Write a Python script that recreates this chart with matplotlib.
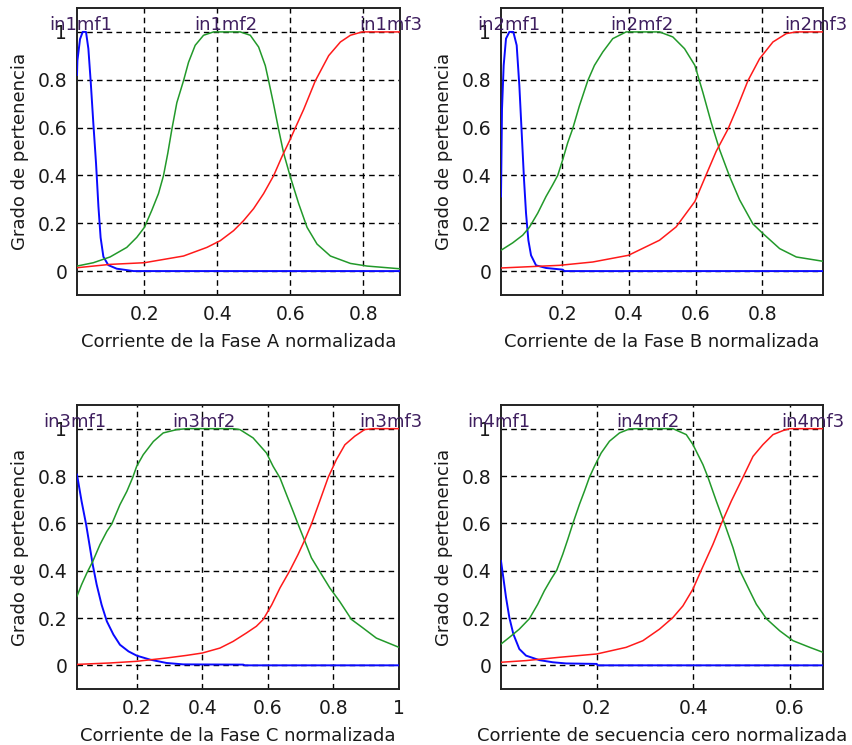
import matplotlib
matplotlib.use("Agg")
import matplotlib.pyplot as plt

plt.rcParams['font.family'] = ['DejaVu Sans']

# ---------------- data ----------------
# Panel 1: Fase A
p1_mf1_x = [0.0164, 0.0175, 0.0247, 0.032, 0.041, 0.0475, 0.054, 0.061, 0.0685, 0.075, 0.081, 0.0886, 0.102, 0.125, 0.171, 0.9]
p1_mf1_y = [0.82, 0.88, 0.97, 1.0, 1.0, 0.93, 0.79, 0.62, 0.45, 0.27, 0.14, 0.06, 0.025, 0.01, 0.0, 0.0]
p1_mf2_x = [0.0164, 0.0612, 0.1068, 0.1525, 0.1799, 0.2009, 0.221, 0.2393, 0.253, 0.2648, 0.2758, 0.2895, 0.3078,
            0.3215, 0.3397, 0.3626, 0.39, 0.463, 0.4904, 0.5132, 0.5315, 0.5406, 0.5543, 0.568, 0.5817, 0.60,
            0.6228, 0.6457, 0.673, 0.7096, 0.7644, 0.81, 0.8968, 0.9]
p1_mf2_y = [0.021, 0.035, 0.059, 0.099, 0.141, 0.183, 0.254, 0.324, 0.399, 0.493, 0.592, 0.704, 0.796,
            0.873, 0.944, 0.986, 1.0, 1.0, 0.986, 0.937, 0.859, 0.796, 0.697, 0.592, 0.493, 0.394,
            0.282, 0.183, 0.113, 0.063, 0.032, 0.021, 0.010, 0.010]
p1_mf3_x = [0.0164, 0.1068, 0.2009, 0.3078, 0.3717, 0.4082, 0.4447, 0.4721, 0.4995, 0.5269, 0.5543, 0.5772,
            0.5991, 0.6137, 0.6365, 0.6685, 0.705, 0.737, 0.7644, 0.7963, 0.9]
p1_mf3_y = [0.014, 0.028, 0.035, 0.063, 0.099, 0.127, 0.169, 0.211, 0.261, 0.324, 0.399, 0.479,
            0.549, 0.599, 0.676, 0.796, 0.901, 0.958, 0.986, 1.0, 1.0]
p1_lab_x = [0.027, 0.423, 0.874]

# Panel 2: Fase B
p2_mf1_x = [0.017, 0.020, 0.025, 0.032, 0.042, 0.054, 0.064, 0.072, 0.079, 0.086, 0.092, 0.099, 0.107, 0.122,
            0.152, 0.202, 0.207, 0.982]
p2_mf1_y = [0.312, 0.677, 0.860, 0.972, 1.0, 1.0, 0.944, 0.775, 0.579, 0.382, 0.242, 0.129, 0.066, 0.024,
            0.013, 0.006, 0.0, 0.0]
p2_mf2_x = [0.017, 0.052, 0.082, 0.102, 0.127, 0.152, 0.172, 0.187, 0.202, 0.217, 0.232, 0.252, 0.277, 0.297,
            0.322, 0.352, 0.392, 0.492, 0.532, 0.567, 0.598, 0.622, 0.647, 0.672, 0.702, 0.732, 0.772, 0.802,
            0.852, 0.902, 0.982]
p2_mf2_y = [0.087, 0.118, 0.150, 0.183, 0.242, 0.312, 0.361, 0.400, 0.466, 0.537, 0.596, 0.691, 0.796, 0.860,
            0.916, 0.972, 1.0, 1.0, 0.979, 0.930, 0.860, 0.747, 0.621, 0.508, 0.396, 0.298, 0.197, 0.157,
            0.094, 0.059, 0.041]
p2_mf3_x = [0.017, 0.192, 0.292, 0.399, 0.492, 0.542, 0.598, 0.632, 0.662, 0.697, 0.727, 0.757, 0.792, 0.832,
            0.872, 0.902, 0.982]
p2_mf3_y = [0.013, 0.024, 0.038, 0.066, 0.129, 0.185, 0.291, 0.403, 0.501, 0.593, 0.691, 0.796, 0.888, 0.958,
            0.993, 1.0, 1.0]
p2_lab_x = [0.039, 0.439, 0.96]

# Panel 3: Fase C
p3_mf1_x = [0.018, 0.032, 0.046, 0.056, 0.066, 0.078, 0.093, 0.109, 0.129, 0.149, 0.175, 0.200, 0.241, 0.291,
            0.342, 0.525, 0.530, 1.0]
p3_mf1_y = [0.806, 0.693, 0.594, 0.510, 0.425, 0.341, 0.256, 0.186, 0.130, 0.087, 0.059, 0.041, 0.024, 0.010,
            0.004, 0.003, 0.0, 0.0]
p3_mf2_x = [0.018, 0.032, 0.048, 0.066, 0.088, 0.109, 0.124, 0.149, 0.170, 0.188, 0.200, 0.220, 0.251, 0.281,
            0.322, 0.352, 0.494, 0.515, 0.555, 0.596, 0.616, 0.637, 0.657, 0.677, 0.692, 0.713, 0.733, 0.758,
            0.789, 0.819, 0.855, 0.890, 0.931, 1.0]
p3_mf2_y = [0.292, 0.341, 0.390, 0.439, 0.510, 0.566, 0.597, 0.679, 0.735, 0.794, 0.841, 0.890, 0.946, 0.982,
            0.996, 1.0, 1.0, 0.996, 0.961, 0.897, 0.841, 0.792, 0.721, 0.651, 0.597, 0.524, 0.454, 0.397,
            0.327, 0.270, 0.194, 0.158, 0.115, 0.076]
p3_mf3_x = [0.018, 0.119, 0.200, 0.291, 0.352, 0.400, 0.454, 0.494, 0.535, 0.565, 0.586, 0.612, 0.637, 0.667,
            0.692, 0.713, 0.733, 0.758, 0.784, 0.809, 0.835, 0.865, 0.895, 0.921, 1.0]
p3_mf3_y = [0.004, 0.010, 0.017, 0.031, 0.042, 0.052, 0.073, 0.101, 0.137, 0.165, 0.194, 0.256, 0.327, 0.400,
            0.468, 0.531, 0.597, 0.693, 0.794, 0.869, 0.932, 0.968, 0.996, 1.0, 1.0]
p3_lab_x = [0.010, 0.405, 0.976]

# Panel 4: secuencia cero
p4_mf1_x = [0.0014, 0.0062, 0.0118, 0.0187, 0.027, 0.0394, 0.0533, 0.081, 0.1087, 0.1363, 0.2, 0.202, 0.669]
p4_mf1_y = [0.441, 0.371, 0.287, 0.202, 0.132, 0.069, 0.041, 0.022, 0.013, 0.008, 0.006, 0.0, 0.0]
p4_mf2_x = [0.0014, 0.0187, 0.0394, 0.0602, 0.0775, 0.0913, 0.1052, 0.117, 0.1294, 0.1398, 0.1502, 0.164,
            0.1744, 0.1848, 0.1952, 0.209, 0.2263, 0.2471, 0.2678, 0.2886, 0.3578, 0.3855, 0.3993, 0.4201,
            0.4304, 0.4478, 0.465, 0.4824, 0.4962, 0.517, 0.5308, 0.5516, 0.5792, 0.6069, 0.6415, 0.669]
p4_mf2_y = [0.090, 0.118, 0.153, 0.197, 0.258, 0.315, 0.364, 0.402, 0.469, 0.532, 0.598, 0.680,
            0.736, 0.795, 0.841, 0.897, 0.947, 0.982, 0.999, 1.0, 1.0, 0.975, 0.933, 0.848,
            0.795, 0.694, 0.598, 0.497, 0.402, 0.315, 0.258, 0.197, 0.146, 0.104, 0.076, 0.055]
p4_mf3_x = [0.0014, 0.0533, 0.1225, 0.2, 0.2609, 0.2955, 0.3301, 0.3578, 0.3785, 0.3993, 0.4166, 0.4408,
            0.4581, 0.4789, 0.5031, 0.5239, 0.5446, 0.5654, 0.5862, 0.6, 0.669]
p4_mf3_y = [0.013, 0.020, 0.034, 0.048, 0.076, 0.104, 0.153, 0.202, 0.251, 0.322, 0.402, 0.511,
            0.598, 0.694, 0.795, 0.883, 0.933, 0.975, 0.992, 1.0, 1.0]
p4_lab_x = [-0.003, 0.306, 0.648]

xlabels = ["Corriente de la Fase A normalizada",
           "Corriente de la Fase B normalizada",
           "Corriente de la Fase C normalizada",
           "Corriente de secuencia cero normalizada"]
ylabel = "Grado de pertenencia"
mf_names = [["in1mf1", "in1mf2", "in1mf3"],
            ["in2mf1", "in2mf2", "in2mf3"],
            ["in3mf1", "in3mf2", "in3mf3"],
            ["in4mf1", "in4mf2", "in4mf3"]]
xticks = [[0.2, 0.4, 0.6, 0.8], [0.2, 0.4, 0.6, 0.8], [0.2, 0.4, 0.6, 0.8, 1.0], [0.2, 0.4, 0.6]]
yticks = [0, 0.2, 0.4, 0.6, 0.8, 1]

panels = [
    (p1_mf1_x, p1_mf1_y, p1_mf2_x, p1_mf2_y, p1_mf3_x, p1_mf3_y, p1_lab_x),
    (p2_mf1_x, p2_mf1_y, p2_mf2_x, p2_mf2_y, p2_mf3_x, p2_mf3_y, p2_lab_x),
    (p3_mf1_x, p3_mf1_y, p3_mf2_x, p3_mf2_y, p3_mf3_x, p3_mf3_y, p3_lab_x),
    (p4_mf1_x, p4_mf1_y, p4_mf2_x, p4_mf2_y, p4_mf3_x, p4_mf3_y, p4_lab_x),
]

# ---------------- layout ----------------
W, H = 852, 745
fig = plt.figure(figsize=(W / 100, H / 100), dpi=100, facecolor='white')

# pixel boxes: left, top, right, bottom
boxes = [(77, 8, 400, 295), (501, 8, 823, 295), (77, 405, 399, 689), (501, 405, 823, 689)]

colors = ['#0a0aff', '#22992a', '#ff1a1a']
widths = [1.4, 1.1, 1.1]
text_col = '#1a1a1a'
lab_col = '#3f1f5f'

for i, (box, data) in enumerate(zip(boxes, panels)):
    l, t, r, b = box
    ax = fig.add_axes([l / W, 1 - b / H, (r - l) / W, (b - t) / H])
    x1, y1, x2, y2, x3, y3, labx = data
    ax.plot(x1, y1, color=colors[0], lw=widths[0], zorder=3)
    ax.plot(x2, y2, color=colors[1], lw=widths[1], zorder=3)
    ax.plot(x3, y3, color=colors[2], lw=widths[2], zorder=3)
    ax.set_xlim(x1[0], x1[-1])
    ax.set_ylim(-0.1, 1.1)
    ax.set_xticks(xticks[i])
    ax.set_xticklabels([('%g' % v) for v in xticks[i]])
    ax.set_yticks(yticks)
    ax.set_yticklabels([('%g' % v) for v in yticks])
    ax.grid(True, color='black', linestyle=(0, (4, 3)), linewidth=1.0, zorder=1)
    ax.set_axisbelow(True)
    ax.tick_params(direction='in', length=0, labelsize=13.5, colors='black',
                   labelcolor=text_col, pad=7)
    for sp in ax.spines.values():
        sp.set_linewidth(1.4)
        sp.set_color('#222222')
    ax.set_xlabel(xlabels[i], fontsize=13, color=text_col, labelpad=7)
    ax.set_ylabel(ylabel, fontsize=13, color=text_col, labelpad=6)
    for k in range(3):
        ax.text(labx[k], 1.008, mf_names[i][k], ha='center', va='baseline',
                fontsize=13, color=lab_col, clip_on=False, zorder=5)

fig.savefig('out.png', dpi=100, facecolor='white')
